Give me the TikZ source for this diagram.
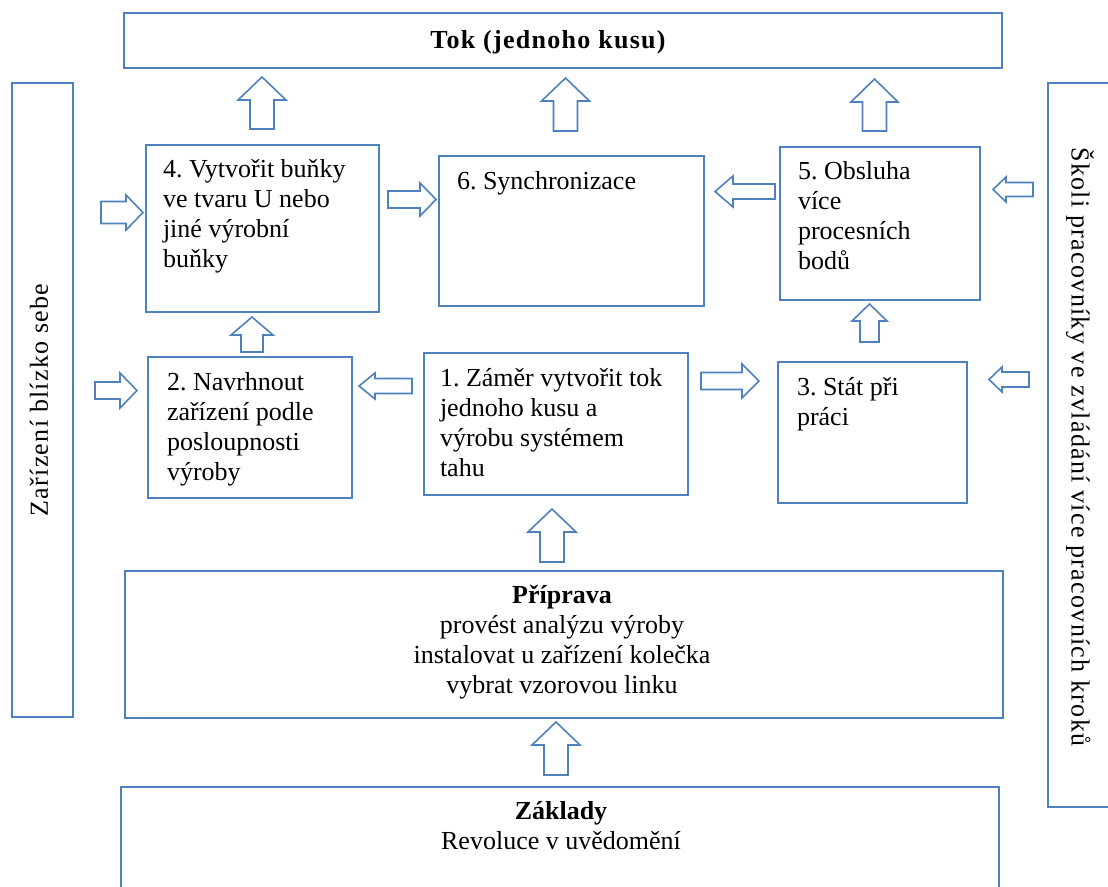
\documentclass[tikz,border=0pt]{standalone}
\usepackage{fontspec}
\setmainfont{Liberation Serif}
\definecolor{boxblue}{RGB}{79,129,189}
\tikzset{
  box/.style={draw=boxblue, line width=1.4pt, fill=none, inner sep=0pt, outer sep=0pt},
  arr/.style={draw=boxblue, line width=1.2pt, fill=white, line join=miter},
  txt/.style={inner sep=0pt, outer sep=0pt, font=\fontsize{19.5}{22.5}\selectfont, text=black},
  wide/.style={font=\fontsize{19.5}{22.5}\selectfont\addfontfeature{LetterSpace=5}},
  ltxt/.style={txt, align=left, anchor=north west, yshift=18pt},
  ctxt/.style={txt, align=center, anchor=north, yshift=18pt},
}
% box: name, x1, y1, x2, y2 (pixel units)
\newcommand\mkbox[5]{\node[box, minimum width={(#4-#2)*0.75}, minimum height={(#5-#3)*0.75}] (#1) at ({(#2+#4)/2},{(#3+#5)/2}) {};}
% block arrow: cx, cy, angle, length, head width, shaft width, head length
\newcommand\barrow[7]{\draw[arr, shift={(#1,#2)}, rotate=#3]
  ({-#4/2},{-#6/2}) -- ({#4/2-#7},{-#6/2}) -- ({#4/2-#7},{-#5/2}) -- ({#4/2},0)
  -- ({#4/2-#7},{#5/2}) -- ({#4/2-#7},{#6/2}) -- ({-#4/2},{#6/2}) -- cycle;}
\newcommand\strt{\rule{0pt}{18pt}}
\frenchspacing
\begin{document}
\begin{tikzpicture}[x=0.75pt,y=-0.75pt]
\useasboundingbox (0,0) rectangle (1108,887);
\clip (0,0) rectangle (1108,887);
% boxes
\mkbox{tok}{124}{13}{1002}{68}
\mkbox{lbar}{12}{83}{73}{717}
\mkbox{rbar}{1048}{83}{1120}{807}
\mkbox{b4}{146}{145}{379}{312}
\mkbox{b6}{439}{156}{704}{306}
\mkbox{b5}{780}{147}{980}{300}
\mkbox{b2}{148}{357}{352}{498}
\mkbox{b1}{424}{353}{688}{495}
\mkbox{b3}{778}{362}{967}{503}
\mkbox{prip}{125}{571}{1003}{718}
\mkbox{zakl}{121}{787}{999}{905}
% texts
\node[txt, font=\fontsize{19.5}{22.5}\selectfont\bfseries\addfontfeature{LetterSpace=5}, anchor=base] (toktxt) at (548,49) {Tok (jednoho kusu)};
\node[txt, wide, rotate=90] (ltxt) at (39,400) {Zařízení blízko sebe};
\node[txt, wide, rotate=-90] (rtxt) at (1080,447) {Školi pracovníky ve zvládání více pracovních kroků};
\node[ltxt] (t4) at (163,178) {\strt 4. Vytvořit buňky\\ve tvaru U nebo\\jiné výrobní\\buňky};
\node[ltxt] (t6) at (457,190) {\strt 6. Synchronizace};
\node[ltxt] (t5) at (798,180) {\strt 5. Obsluha\\více\\procesních\\bodů};
\node[ltxt] (t2) at (167,391) {\strt 2. Navrhnout\\zařízení podle\\posloupnosti\\výroby};
\node[ltxt] (t1) at (440,387) {\strt 1. Záměr vytvořit tok\\jednoho kusu a\\výrobu systémem\\tahu};
\node[ltxt] (t3) at (797,396) {\strt 3. Stát při\\práci};
\node[ctxt] (tprip) at (562,604) {\strt\textbf{Příprava}\\provést analýzu výroby\\instalovat u zařízení kolečka\\vybrat vzorovou linku};
\node[ctxt] (tzakl) at (561,820) {\strt\textbf{Základy}\\Revoluce v uvědomění};
% arrows up to Tok
\barrow{262}{103}{90}{52}{48}{24}{23}
\barrow{565.5}{104.5}{90}{53}{48}{24}{23}
\barrow{874.5}{105}{90}{52}{47}{24}{23}
% vertical arrows between rows
\barrow{252}{334.5}{90}{35}{42}{22}{18}
\barrow{869.5}{323}{90}{38}{35}{19}{17}
\barrow{552}{535.5}{90}{53}{48}{24}{23}
\barrow{556}{748.5}{90}{53}{48}{24}{23}
% horizontal arrows, top row
\barrow{122}{212.5}{0}{42}{35}{22}{17}
\barrow{412}{199.5}{0}{48}{33}{17}{16}
\barrow{745}{191.5}{180}{60}{31}{15}{18}
\barrow{1013}{189.5}{180}{40}{25}{14}{13}
% horizontal arrows, middle row
\barrow{116}{390.5}{0}{42}{35}{17}{17}
\barrow{385.5}{386}{180}{53}{26}{15}{16}
\barrow{730}{381}{0}{58}{34}{17}{17}
\barrow{1009}{379.5}{180}{40}{25}{15}{13}
\end{tikzpicture}
\end{document}
